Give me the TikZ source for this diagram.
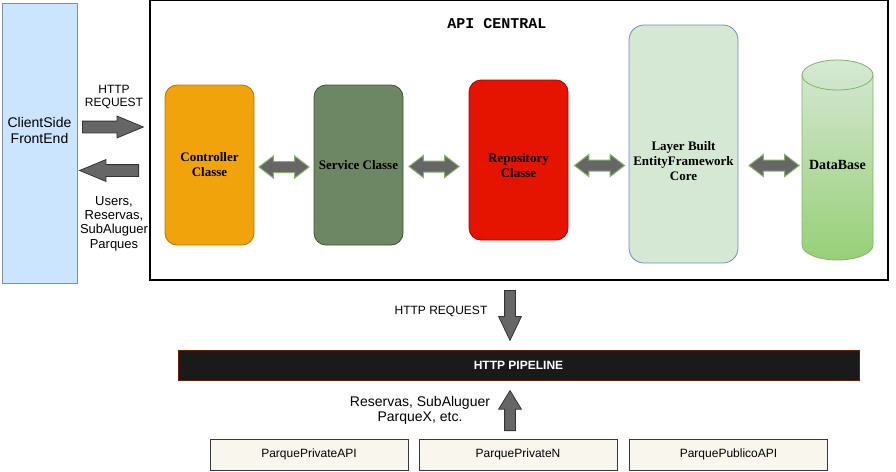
\documentclass[tikz,border=0pt]{standalone}
\usepackage{fontspec}
\setmainfont{Liberation Serif}
\setsansfont{Liberation Sans}
\setmonofont{Liberation Mono}
\usetikzlibrary{shapes.arrows}
\definecolor{clientfill}{HTML}{CCE5FF}
\definecolor{clientline}{HTML}{7F8FA6}
\definecolor{ctrlfill}{HTML}{F0A30A}
\definecolor{ctrlline}{HTML}{BD7000}
\definecolor{servfill}{HTML}{6D8764}
\definecolor{servline}{HTML}{3A5431}
\definecolor{repofill}{HTML}{E51400}
\definecolor{repoline}{HTML}{B20000}
\definecolor{layerfill}{HTML}{D5E8D4}
\definecolor{layerline}{HTML}{6C8EBF}
\definecolor{dbtop}{HTML}{D5E8D4}
\definecolor{dbbottom}{HTML}{97D077}
\definecolor{dbline}{HTML}{82B366}
\definecolor{arrowfill}{HTML}{666666}
\definecolor{arrowline}{HTML}{333333}
\definecolor{pipefill}{HTML}{1A1A1A}
\definecolor{pipeedge}{HTML}{6D1F00}
\definecolor{boxfill}{HTML}{F9F7ED}
\definecolor{boxline}{HTML}{36393D}

\begin{document}
\begin{tikzpicture}[x=1pt, y=-1pt,
    layer/.style={rounded corners=12pt, minimum width=89pt, minimum height=160pt, line width=.8pt},
    caption/.style={font=\bfseries\fontsize{13}{15}\selectfont, align=center},
    block/.style={single arrow, fill=arrowfill, draw=arrowline, line width=.8pt, inner sep=0pt,
        text height=11pt, text depth=0pt, single arrow head extend=5pt, single arrow tip angle=45},
    vblock/.style={block, text height=0pt, text width=10pt, single arrow head extend=6pt},
    link/.style={double arrow, fill=arrowfill, draw=dbline, line width=1pt, inner sep=0pt,
        text height=10pt, text depth=0pt, double arrow head extend=5.5pt, double arrow tip angle=75, minimum height=50pt},
    part/.style={draw=boxline, fill=boxfill, minimum width=198pt, minimum height=31pt, font=\sffamily\fontsize{12}{14}\selectfont}]
    \useasboundingbox (0,0) rectangle (896,471);
    % cliente e caixa da API
    \node[draw=clientline, fill=clientfill, line width=1pt, minimum width=75pt, minimum height=280pt,
        label={[font=\sffamily\fontsize{14}{16}\selectfont, align=center, yshift=13pt]center:ClientSide\\FrontEnd}] (client) at (39.5,143) {};
    \node[draw, line width=1.2pt, minimum width=738pt, minimum height=280pt] (api) at (519,140) {};
    \node[font=\ttfamily\bfseries\fontsize{15}{17}\selectfont] (title) at (497,24) {API CENTRAL};
    % camadas
    \node[layer, fill=ctrlfill, draw=ctrlline, caption] (ctrl) at (209.5,165) {Controller\\Classe};
    \node[layer, fill=servfill, draw=servline, caption] (serv) at (358.5,165) {Service Classe};
    \node[layer, fill=repofill, draw=repoline, minimum width=99pt,
        label={[caption, yshift=-6pt]center:Repository\\Classe}] (repo) at (518.5,160) {};
    \node[layer, fill=layerfill, draw=layerline, minimum width=109pt, minimum height=238pt, rounded corners=15pt,
        label={[caption, yshift=-17pt]center:Layer Built\\EntityFramework\\Core}] (ef) at (683.5,144) {};
    % cilindro da base de dados
    \shade[top color=dbtop, bottom color=dbbottom, draw=dbline, line width=.8pt]
        (802,75) -- (802,245) arc[start angle=180, end angle=0, x radius=35.5, y radius=15]
        -- (873,75) arc[start angle=0, end angle=-180, x radius=35.5, y radius=15] -- cycle;
    \draw[dbline, line width=.8pt] (802,75) arc[start angle=180, end angle=0, x radius=35.5, y radius=15];
    \node[font=\bfseries\fontsize{14}{16}\selectfont] (db) at (837.5,165) {DataBase};
    % setas entre camadas
    \node[link] (l1) at (284,167) {};
    \node[link] (l2) at (434,166.5) {};
    \node[link] (l3) at (599.5,165.5) {};
    \node[link] (l4) at (774,165.5) {};
    % pedido e resposta do cliente
    \node[block, minimum height=61pt, anchor=tail] (req) at (82,127) {};
    \node[block, minimum height=59pt, shape border rotate=180, anchor=tail] (resp) at (139,170.5) {};
    \node[align=center, font=\sffamily\fontsize{12}{13}\selectfont] (reqtxt) at (114,97.5) {HTTP\\REQUEST};
    \node[align=center, font=\sffamily\fontsize{13}{14.3}\selectfont] (resptxt) at (114,223.5) {Users,\\Reservas,\\SubAluguer\\Parques};
    % pipeline e APIs dos parques
    \node[vblock, shape border rotate=270, minimum height=50pt, single arrow tip angle=51, anchor=tail] (down) at (510,290) {};
    \node[font=\sffamily\fontsize{12}{14}\selectfont] (downtxt) at (441,311) {HTTP REQUEST};
    \node[fill=pipefill, draw=pipeedge, line width=1pt, minimum width=681pt, minimum height=30pt, text=white,
        font=\sffamily\bfseries\fontsize{12}{14}\selectfont] (pipe) at (518.5,365) {HTTP PIPELINE};
    \node[vblock, shape border rotate=90, minimum height=40pt, single arrow tip angle=63, anchor=tail] (up) at (510,431) {};
    \node[align=center, font=\sffamily\fontsize{14}{15}\selectfont] (uptxt) at (420,410.5) {Reservas, SubAluguer\\ParqueX, etc.};
    \node[part] (p1) at (309,454.5) {ParquePrivateAPI};
    \node[part] (p2) at (518,454.5) {ParquePrivateN};
    \node[part] (p3) at (728.5,454.5) {ParquePublicoAPI};
\end{tikzpicture}
\end{document}
